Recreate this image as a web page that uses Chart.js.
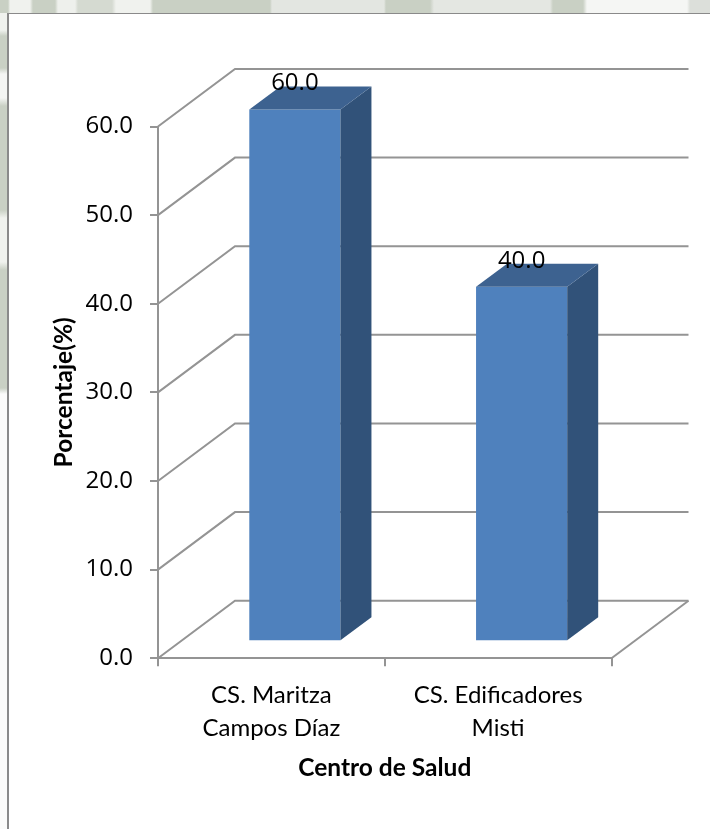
<!DOCTYPE html>
<html lang="es">
<head>
<meta charset="utf-8">
<title>Porcentaje por Centro de Salud</title>
<script src="https://cdn.jsdelivr.net/npm/chart.js@4"></script>
<style>
  html, body { margin: 0; padding: 0; width: 710px; height: 829px; overflow: hidden; }
  body {
    position: relative;
    background-color: #fbfbfa;
    background-image:
      linear-gradient(90deg, #c9d0c4 0 8px, #f0f2ee 10px 30px, #c9d0c4 33px 55px, #eef0ec 58px 75px, #d5dad1 78px 112px, #f0f2ee 116px 150px, #c9d0c4 153px 270px, #e3e6e1 272px 384px, #c9d0c4 386px 430px, #e4e7e2 434px 550px, #c9d0c4 553px 583px, #f5f6f4 587px 687px, #dcdfda 690px),
      linear-gradient(180deg, #f0f2ee 0 30px, #c9d0c4 36px 68px, #f4f5f3 74px 98px, #c9d0c4 106px 210px, #f0f2ee 218px 262px, #c9d0c4 270px 388px, #fbfbfa 394px);
    background-size: 100% 13px, 7px 100%;
    background-repeat: no-repeat;
  }
  #sheet {
    position: absolute; left: 7px; top: 13px; right: 0; bottom: 0;
    background: #fff;
    border-left: 2px solid #8a8a8a;
    border-top: 1px solid #8a8a8a;
  }
  canvas { position: absolute; left: 0; top: 0; }
</style>
</head>
<body>
<div id="sheet"></div>
<canvas id="chart" width="710" height="829"></canvas>
<script>
const categories = [['CS. Maritza', 'Campos Díaz'], ['CS. Edificadores', 'Misti']]
const percentages = [60.0, 40.0]
const yTicks = [0, 10, 20, 30, 40, 50, 60]

const LINE = '#949494'
const FRONT = '#4f81bd'
const SIDE = '#315279'
const TOP = '#3d6290'

// floor and back wall reach this far behind the axes
const wallDepth = { x: 77, y: 57.5 }
// the boxes stand this far in from the front edge of the floor
const boxInset = { x: 23.5, y: 17 }
// and each box is this deep
const boxDepth = { x: 31, y: 23 }

// walls and floor, under the bars
const walls = {
  id: 'walls',
  beforeDatasetsDraw(chart) {
    const { ctx, scales: { x, y } } = chart
    ctx.save()
    ctx.strokeStyle = LINE
    ctx.lineWidth = 2
    yTicks.forEach(v => {
      const py = y.getPixelForValue(v)
      ctx.beginPath()
      ctx.moveTo(x.left, py)
      ctx.lineTo(x.left + wallDepth.x, py - wallDepth.y)
      ctx.lineTo(x.right + wallDepth.x, py - wallDepth.y)
      ctx.stroke()
    })
    // right edge of the floor
    const py0 = y.getPixelForValue(0)
    ctx.beginPath()
    ctx.moveTo(x.right, py0)
    ctx.lineTo(x.right + wallDepth.x, py0 - wallDepth.y)
    ctx.stroke()
    ctx.restore()
  }
}

// shifts the bar into the room and adds its top and side faces
const boxes = {
  id: 'boxes',
  beforeDatasetDraw(chart) {
    chart.ctx.save()
    chart.ctx.translate(boxInset.x, -boxInset.y)
  },
  afterDatasetDraw(chart, args) {
    const { ctx } = chart
    args.meta.data.forEach(bar => {
      const { x, y, base, width } = bar.getProps(['x', 'y', 'base', 'width'], true)
      const r = x + width / 2
      const l = x - width / 2
      ctx.fillStyle = SIDE
      ctx.beginPath()
      ctx.moveTo(r, y)
      ctx.lineTo(r + boxDepth.x, y - boxDepth.y)
      ctx.lineTo(r + boxDepth.x, base - boxDepth.y)
      ctx.lineTo(r, base)
      ctx.closePath()
      ctx.fill()
      ctx.fillStyle = TOP
      ctx.beginPath()
      ctx.moveTo(l, y)
      ctx.lineTo(l + boxDepth.x, y - boxDepth.y)
      ctx.lineTo(r + boxDepth.x, y - boxDepth.y)
      ctx.lineTo(r, y)
      ctx.closePath()
      ctx.fill()
    })
    ctx.restore()
  }
}

const valueLabels = {
  id: 'valueLabels',
  afterDatasetsDraw(chart) {
    const { ctx } = chart
    ctx.save()
    ctx.font = '24px "Open Sans"'
    ctx.fillStyle = '#000'
    ctx.textAlign = 'center'
    ctx.textBaseline = 'middle'
    chart.getDatasetMeta(0).data.forEach((bar, i) => {
      ctx.fillText(percentages[i].toFixed(1), bar.x + boxInset.x, bar.y - boxInset.y - 26)
    })
    ctx.restore()
  }
}

new Chart(document.getElementById('chart'), {
  type: 'bar',
  data: {
    labels: categories,
    datasets: [{
      data: percentages,
      backgroundColor: FRONT,
      barPercentage: 0.402,
      categoryPercentage: 1,
      clip: false
    }]
  },
  plugins: [walls, boxes, valueLabels],
  options: {
    responsive: false,
    animation: false,
    layout: { padding: { left: 0, top: 126.5, right: 98.5, bottom: 0 } },
    plugins: { legend: { display: false }, tooltip: { enabled: false } },
    scales: {
      x: {
        afterFit(scale) { scale.height = 170.8 },
        border: { color: LINE, width: 2 },
        grid: { drawOnChartArea: false, offset: true, color: LINE, lineWidth: 2, tickLength: 8 },
        ticks: {
          color: '#000',
          maxRotation: 0,
          autoSkip: false,
          padding: 13,
          font: { family: 'Lato', size: 24, lineHeight: 1.375 }
        },
        title: {
          display: true,
          text: 'Centro de Salud',
          color: '#000',
          font: { family: 'Lato', size: 24.5, weight: 'bold' },
          padding: { top: 0, bottom: 46 }
        }
      },
      y: {
        min: 0,
        max: 60,
        afterFit(scale) { scale.width = 158 },
        afterBuildTicks(scale) { scale.ticks = yTicks.map(value => ({ value })) },
        border: { color: LINE, width: 2 },
        grid: { drawOnChartArea: false, color: LINE, lineWidth: 2, tickLength: 8 },
        ticks: {
          color: '#000',
          padding: 17,
          font: { family: 'Open Sans', size: 24 },
          callback: v => v.toFixed(1)
        },
        title: {
          display: true,
          text: 'Porcentaje(%)',
          color: '#000',
          font: { family: 'Lato', size: 24.5, weight: 'bold' },
          padding: { top: 49, bottom: 0 }
        }
      }
    }
  }
})
</script>
</body>
</html>
